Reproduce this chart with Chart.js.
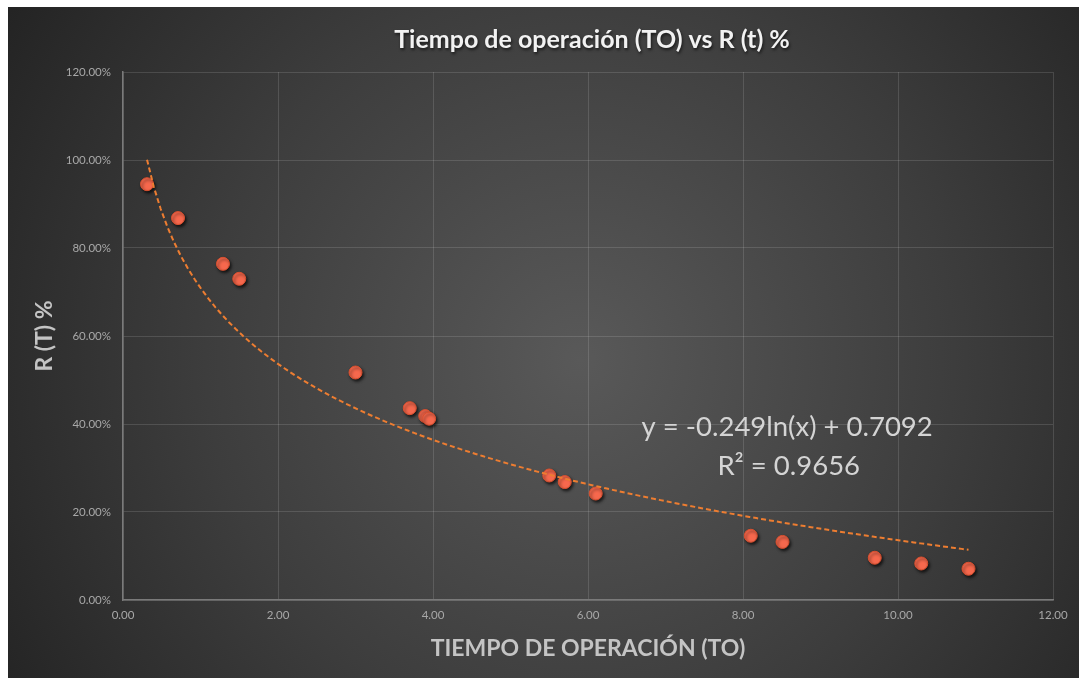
<!DOCTYPE html>
<html>
<head>
<meta charset="utf-8">
<script src="https://cdn.jsdelivr.net/npm/chart.js@4/dist/chart.umd.min.js"></script>
<style>
  html, body { margin: 0; padding: 0; background: #ffffff; }
  #wrap { width: 1079px; height: 678px; position: relative; }
</style>
</head>
<body>
<div id="wrap"><canvas id="c" width="1079" height="678"></canvas></div>
<script>
// Operating time (TO) and reliability R(t) observations
const tiempoOperacion = [0.31, 0.71, 1.29, 1.50, 3.00, 3.70, 3.90, 3.95, 5.50, 5.70, 6.10, 8.10, 8.51, 9.70, 10.30, 10.91];
const confiabilidad   = [0.945, 0.868, 0.764, 0.730, 0.517, 0.436, 0.418, 0.412, 0.283, 0.268, 0.242, 0.146, 0.132, 0.096, 0.083, 0.071];

// Logarithmic trend line coefficients as printed on the chart
const trendA = -0.249;
const trendB = 0.7092;
const trendR2 = 0.9656;
const trendLabel = 'y = -0.249ln(x) + 0.7092';
const r2Label = 'R² = 0.9656';
const chartTitle = 'Tiempo de operación (TO) vs R (t) %';

const xTicks = [0, 2, 4, 6, 8, 10, 12];
const yTicks = [0, 0.2, 0.4, 0.6, 0.8, 1.0, 1.2];

// Trend curve sampled across the data range
const xMin = Math.min(...tiempoOperacion);
const xMax = Math.max(...tiempoOperacion);
const trendPoints = [];
const steps = 120;
for (let i = 0; i <= steps; i++) {
  const x = xMin + (xMax - xMin) * i / steps;
  trendPoints.push({ x: x, y: trendA * Math.log(x) + trendB });
}

const scatterPoints = tiempoOperacion.map((x, i) => ({ x: x, y: confiabilidad[i] }));

const FONT = 'Lato, "Open Sans", sans-serif';

const bgPlugin = {
  id: 'bg',
  beforeDraw(chart) {
    const ctx = chart.ctx;
    ctx.save();
    ctx.fillStyle = '#ffffff';
    ctx.fillRect(0, 0, chart.width, chart.height);
    const g = ctx.createRadialGradient(580, 360, 0, 580, 360, 680);
    g.addColorStop(0, '#595959');
    g.addColorStop(0.55, '#3d3d3d');
    g.addColorStop(1, '#232323');
    ctx.fillStyle = g;
    ctx.fillRect(8, 7, chart.width - 8, chart.height - 7);
    ctx.restore();
  },
  afterDraw(chart) {
    // chart title, centred over the plot area
    const ctx = chart.ctx;
    const a = chart.chartArea;
    ctx.save();
    ctx.font = 'bold 25px ' + FONT;
    ctx.textAlign = 'center';
    ctx.textBaseline = 'middle';
    ctx.shadowColor = 'rgba(0,0,0,0.6)';
    ctx.shadowBlur = 3;
    ctx.shadowOffsetX = 1;
    ctx.shadowOffsetY = 1.5;
    ctx.fillStyle = '#f2f2f2';
    ctx.fillText(chartTitle, (a.left + a.right) / 2 + 4, 40);
    ctx.restore();
  }
};

const shadowPlugin = {
  id: 'markerShadow',
  beforeDatasetDraw(chart, args) {
    if (args.index !== 1) return;
    const ctx = chart.ctx;
    ctx.save();
    ctx.shadowColor = 'rgba(0,0,0,0.7)';
    ctx.shadowBlur = 3;
    ctx.shadowOffsetX = 1.5;
    ctx.shadowOffsetY = 2;
  },
  afterDatasetDraw(chart, args) {
    if (args.index !== 1) return;
    chart.ctx.restore();
  }
};

const equationPlugin = {
  id: 'equation',
  afterDatasetsDraw(chart) {
    const ctx = chart.ctx;
    const xs = chart.scales.x, ys = chart.scales.y;
    const cx = xs.getPixelForValue(8.57);
    ctx.save();
    ctx.fillStyle = '#d4d4d4';
    ctx.font = '27.5px ' + FONT;
    ctx.textAlign = 'center';
    ctx.textBaseline = 'middle';
    ctx.fillText(trendLabel, cx, ys.getPixelForValue(0.393));
    ctx.fillText(r2Label, xs.getPixelForValue(8.59), ys.getPixelForValue(0.305));
    ctx.restore();
  }
};

new Chart(document.getElementById('c'), {
  type: 'scatter',
  data: {
    datasets: [
      {
        type: 'line',
        label: 'Tendencia',
        data: trendPoints,
        borderColor: '#ED7D31',
        borderWidth: 2,
        borderDash: [5, 3],
        pointRadius: 0,
        fill: false,
        tension: 0
      },
      {
        label: 'R (t)',
        data: scatterPoints,
        backgroundColor: '#F6684D',
        borderColor: '#D9502F',
        borderWidth: 1,
        pointRadius: 6.5,
        pointHoverRadius: 6.5
      }
    ]
  },
  options: {
    responsive: false,
    animation: false,
    layout: { padding: { left: 8, top: 72, right: 26, bottom: 16 } },
    plugins: {
      legend: { display: false },
      tooltip: { enabled: false },
      title: { display: false }
    },
    scales: {
      x: {
        type: 'linear',
        min: 0, max: 12,
        afterBuildTicks(scale) { scale.ticks = xTicks.map(v => ({ value: v })); },
        afterFit(scale) { scale.height = 62; },
        ticks: {
          color: '#a8a8a8',
          font: { family: FONT, size: 11.5 },
          padding: 8,
          maxRotation: 0,
          callback: v => Number(v).toFixed(2)
        },
        grid: { color: 'rgba(255,255,255,0.13)', drawTicks: false, lineWidth: 1 },
        border: { color: '#7a7a7a', width: 1.5 },
        title: {
          display: true,
          text: 'TIEMPO DE OPERACIÓN (TO)',
          color: '#c4c4c4',
          font: { family: FONT, size: 23, weight: 'bold' },
          padding: { top: 10, bottom: 0 }
        }
      },
      y: {
        type: 'linear',
        min: 0, max: 1.2,
        afterBuildTicks(scale) { scale.ticks = yTicks.map(v => ({ value: v })); },
        afterFit(scale) { scale.width = 115; },
        ticks: {
          color: '#a8a8a8',
          font: { family: FONT, size: 11.5 },
          padding: 12,
          callback: v => (v * 100).toFixed(2) + '%'
        },
        grid: { color: 'rgba(255,255,255,0.13)', drawTicks: false, lineWidth: 1 },
        border: { color: '#7a7a7a', width: 1.5 },
        title: {
          display: true,
          text: 'R (T) %',
          color: '#c4c4c4',
          font: { family: FONT, size: 23, weight: 'bold' },
          padding: { top: 23, bottom: 0 }
        }
      }
    }
  },
  plugins: [bgPlugin, shadowPlugin, equationPlugin]
});
</script>
</body>
</html>
